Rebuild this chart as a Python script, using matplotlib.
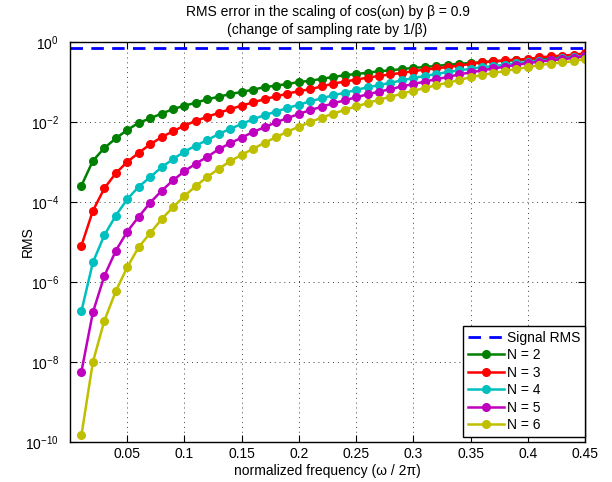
import numpy as np
import matplotlib
matplotlib.use('Agg')
import matplotlib.pyplot as plt

plt.rcParams['font.family'] = ['Liberation Sans', 'DejaVu Sans']
plt.rcParams['mathtext.fontset'] = 'custom'
plt.rcParams['mathtext.rm'] = 'Liberation Sans'
plt.rcParams['mathtext.it'] = 'Liberation Sans:italic'

# normalized frequency 0.01 ... 0.45
freq = np.arange(1, 46) / 100.0

signal_rms = 0.7071

# log10 of RMS error
log_n2 = [-3.59, -2.97, -2.65, -2.41, -2.20, -2.02, -1.91, -1.79, -1.68, -1.59,
          -1.52, -1.43, -1.37, -1.30, -1.25, -1.19, -1.13, -1.09, -1.05, -1.00,
          -0.97, -0.92, -0.875, -0.83, -0.80, -0.77, -0.73, -0.71, -0.675, -0.65,
          -0.625, -0.60, -0.57, -0.545, -0.525, -0.505, -0.485, -0.47, -0.455, -0.44,
          -0.42, -0.405, -0.39, -0.375, -0.36]
log_n3 = [-5.09, -4.22, -3.66, -3.28, -3.00, -2.77, -2.56, -2.38, -2.23, -2.09,
          -1.97, -1.87, -1.77, -1.68, -1.59, -1.51, -1.43, -1.36, -1.29, -1.23,
          -1.18, -1.11, -1.04, -0.99, -0.94, -0.89, -0.85, -0.81, -0.77, -0.73,
          -0.69, -0.66, -0.625, -0.59, -0.55, -0.51, -0.48, -0.46, -0.44, -0.425,
          -0.385, -0.36, -0.34, -0.32, -0.28]
log_n4 = [-6.73, -5.51, -4.83, -4.34, -3.93, -3.62, -3.38, -3.13, -2.93, -2.74,
          -2.59, -2.45, -2.30, -2.17, -2.05, -1.93, -1.83, -1.74, -1.65, -1.57,
          -1.48, -1.41, -1.33, -1.27, -1.20, -1.13, -1.08, -1.02, -0.96, -0.90,
          -0.85, -0.80, -0.75, -0.71, -0.67, -0.63, -0.60, -0.57, -0.53, -0.50,
          -0.47, -0.44, -0.41, -0.38, -0.34]
log_n5 = [-8.24, -6.76, -5.85, -5.22, -4.74, -4.37, -4.02, -3.72, -3.46, -3.23,
          -3.04, -2.87, -2.68, -2.53, -2.39, -2.25, -2.13, -2.01, -1.90, -1.80,
          -1.70, -1.62, -1.53, -1.46, -1.38, -1.31, -1.24, -1.18, -1.11, -1.05,
          -0.99, -0.93, -0.875, -0.81, -0.76, -0.71, -0.66, -0.62, -0.57, -0.53,
          -0.49, -0.46, -0.43, -0.40, -0.35]
log_n6 = [-9.83, -8.00, -6.97, -6.23, -5.63, -5.13, -4.78, -4.43, -4.13, -3.85,
          -3.60, -3.37, -3.17, -2.98, -2.82, -2.67, -2.52, -2.38, -2.24, -2.12,
          -2.00, -1.89, -1.79, -1.70, -1.61, -1.53, -1.44, -1.37, -1.29, -1.22,
          -1.15, -1.08, -1.02, -0.95, -0.88, -0.825, -0.775, -0.725, -0.675, -0.63,
          -0.58, -0.54, -0.51, -0.48, -0.425]

labels = ['N = 2', 'N = 3', 'N = 4', 'N = 5', 'N = 6']
colores = [(0, 0.5, 0), (1, 0, 0), (0, 0.75, 0.75), (0.75, 0, 0.75), (0.75, 0.75, 0)]
series = [log_n2, log_n3, log_n4, log_n5, log_n6]

x_ticks = [0.05, 0.1, 0.15, 0.2, 0.25, 0.3, 0.35, 0.4, 0.45]
x_ticklabels = ['0.05', '0.1', '0.15', '0.2', '0.25', '0.3', '0.35', '0.4', '0.45']
y_exps = [0, -2, -4, -6, -8, -10]

fig = plt.figure(figsize=(6.12, 4.82), dpi=100)
ax = fig.add_axes([70 / 612, 1 - 442 / 482, 515 / 612, 400 / 482])

ax.semilogy([0, 0.45], [signal_rms, signal_rms], '--', color=(0, 0, 1),
            lw=2, dashes=(4.5, 3), label='Signal RMS')
for vals, lab, c in zip(series, labels, colores):
    ax.semilogy(freq, 10.0 ** np.array(vals), '-o', color=c, lw=1.8,
                markersize=5.5, label=lab)

ax.set_xlim(0, 0.45)
ax.set_ylim(1e-10, 1)
ax.set_xticks(x_ticks)
ax.set_xticklabels(x_ticklabels)
ax.set_yticks([10.0 ** e for e in y_exps])
ax.set_yticklabels([r'$10^{%d}$' % e for e in y_exps])
ax.yaxis.set_minor_locator(matplotlib.ticker.NullLocator())
ax.tick_params(direction='in', top=True, right=True, labelsize=10, length=5, width=0.8)
ax.tick_params(axis='y', pad=8)
ax.grid(True, linestyle=(0, (1, 4)), color='0.25', lw=0.7)
for s in ax.spines.values():
    s.set_linewidth(1.0)

ax.set_xlabel('normalized frequency (ω / 2π)', fontsize=10, labelpad=2)
ax.set_ylabel('RMS', fontsize=10)
ax.yaxis.set_label_coords(-0.068, 0.5)
ax.set_title('RMS error in the scaling of cos(ωn) by β = 0.9\n(change of sampling rate by 1/β)',
             fontsize=10, pad=6, linespacing=1.3)

leg = ax.legend(loc='lower right', bbox_to_anchor=(1.0, 0.0125), borderaxespad=0,
                fontsize=10, fancybox=False, edgecolor='black', framealpha=1,
                handlelength=2.6, handletextpad=0.2, labelspacing=0.25,
                borderpad=0.35)
leg.get_frame().set_linewidth(1.0)

plt.savefig('out.png', dpi=100)
